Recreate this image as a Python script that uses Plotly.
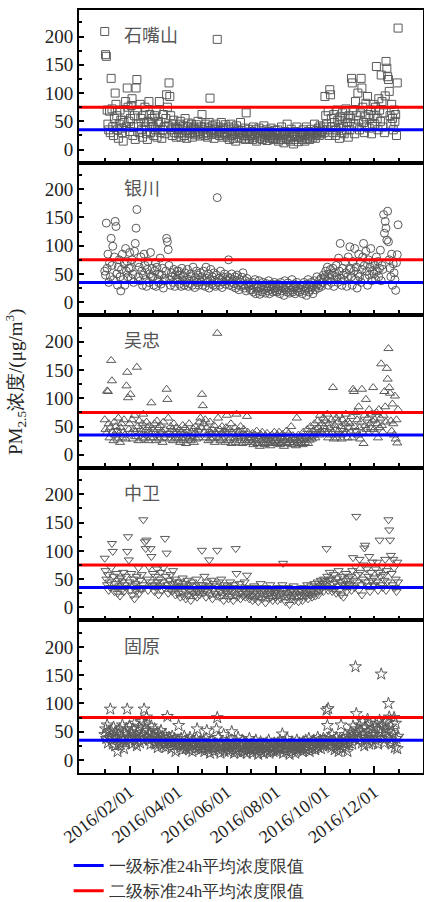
import pandas as pd
import plotly.graph_objects as go
from plotly.subplots import make_subplots

YEAR = 2016
STATIONS = ["石嘴山", "银川", "吴忠", "中卫", "固原"]
SYMBOLS = ["square-open", "circle-open", "triangle-up-open", "triangle-down-open", "star-open"]
LIMIT_1 = 35   # 一级标准
LIMIT_2 = 75   # 二级标准
LEGEND_NAMES = ["一级标准24h平均浓度限值", "二级标准24h平均浓度限值"]
X_RANGE = ["2015-11-30", "2017-01-31"]
X_TICKS = ["2016-02-01", "2016-04-01", "2016-06-01", "2016-08-01", "2016-10-01", "2016-12-01"]
X_TICK_LABELS = ["2016/02/01", "2016/04/01", "2016/06/01", "2016/08/01", "2016/10/01", "2016/12/01"]
Y_TICKS = [0, 50, 100, 150, 200]

# daily PM2.5 values, one inner list per month (Jan..Dec)
shizuishan = [
    [209,168,165,70,45,35,68,30,126,72,40,25,55,100,80,60,35,20,45,70,52,38,30,15,48,66,85,40,109,75,50],
    [32,55,78,90,25,40,60,18,109,124,70,45,30,80,55,35,22,60,48,75,40,28,18,50,85,62,30,45,55],
    [40,25,60,35,70,22,45,50,85,30,48,20,35,62,40,28,55,97,75,42,118,94,60,35,25,45,52,30,40,22,38],
    [35,28,45,50,22,30,38,42,25,55,33,20,40,47,30,28,35,45,22,38,40,30,26,44,35,50,28,32,24,40],
    [62,35,28,40,25,45,30,22,38,48,91,33,27,42,30,20,36,45,28,195,32,40,25,35,48,30,22,38,28,44,26],
    [30,22,40,18,35,45,25,28,20,38,32,15,42,27,35,22,30,48,20,33,28,25,38,18,65,30,24,36,20,28],
    [25,32,18,40,22,28,35,15,30,26,38,20,24,33,18,30,42,22,27,35,16,28,32,20,25,38,22,30,18,26,34],
    [20,28,35,15,25,30,18,40,22,26,12,32,28,20,45,18,24,30,15,36,22,28,10,25,32,18,40,22,14,30,26],
    [22,30,18,35,25,15,28,40,20,32,26,18,24,36,30,22,28,45,20,26,34,30,38,25,42,32,28,35,40,30],
    [94,60,45,35,68,25,106,97,55,40,30,62,48,25,35,70,52,38,20,58,45,30,65,40,28,55,72,35,48,22,60],
    [35,55,126,118,70,45,28,85,60,40,100,52,35,65,126,109,75,48,30,58,82,40,94,62,38,55,70,28,45,80],
    [60,45,75,147,55,35,90,70,50,132,85,40,65,30,95,156,144,129,124,103,60,45,80,55,35,70,50,62,25,118,215],
]
yinchuan = [
    [55,48,140,60,85,35,70,45,113,65,99,40,80,143,134,50,30,62,75,45,20,58,85,40,68,30,95,55,72,45,60],
    [88,60,42,75,50,35,90,104,131,164,70,45,62,38,80,55,30,48,85,65,40,28,58,72,35,50,88,45,60],
    [45,30,55,70,28,62,40,35,50,78,32,48,60,25,42,38,55,113,107,93,65,40,30,52,45,35,58,28,48,40,55],
    [40,55,32,48,28,60,38,45,30,52,35,42,58,28,40,33,50,45,30,62,38,26,44,55,35,48,30,40,52,36],
    [45,30,55,38,28,62,42,35,50,25,40,58,33,45,30,52,38,28,48,185,35,42,30,55,40,26,45,36,50,32,40],
    [38,45,75,30,42,35,50,28,40,33,45,25,38,48,30,22,40,35,28,44,52,30,25,38,20,42,32,28,35,22],
    [30,22,35,18,28,40,15,25,32,20,38,14,26,30,18,35,22,28,16,33,25,20,38,15,28,22,32,18,25,35,20],
    [25,18,32,22,28,15,35,20,26,30,12,38,22,28,18,34,25,16,30,22,40,18,26,32,15,28,35,20,25,18,30],
    [22,30,15,28,35,20,25,12,32,40,18,28,22,35,26,15,30,38,22,28,45,32,25,38,30,42,28,35,48,40],
    [45,55,38,62,30,50,42,58,35,48,60,28,52,40,65,45,35,78,55,104,42,30,60,48,38,72,52,28,45,80,58],
    [98,60,45,30,72,55,95,40,62,25,50,85,45,70,35,58,80,104,65,42,90,55,30,75,48,62,95,38,55,70],
    [50,65,40,80,55,72,45,60,92,38,65,58,155,122,143,131,110,161,107,75,60,45,85,30,68,52,40,21,70,84,137],
]
wuzhong = [
    [62,45,38,113,112,55,30,48,167,131,40,25,58,35,50,42,28,65,38,22,48,55,30,40,62,35,28,122,146,101,45],
    [55,107,38,62,28,45,70,40,32,155,50,25,60,38,45,30,55,72,28,42,35,58,48,25,40,52,30,92,38],
    [45,30,55,40,25,60,35,48,28,52,38,42,22,58,30,45,35,116,98,65,40,28,50,35,45,25,55,38,30,48,40],
    [35,28,45,22,40,30,52,25,38,48,20,35,42,28,55,32,25,40,30,46,22,38,50,28,35,44,30,58,65,48],
    [107,87,55,40,62,30,48,35,25,42,58,28,38,45,30,52,22,40,35,215,65,30,45,25,38,50,28,35,42,22,48],
    [70,38,25,45,30,55,20,40,35,28,48,22,72,36,30,42,25,50,32,20,38,45,28,35,22,68,40,30,25,35],
    [30,22,38,18,28,35,25,42,20,32,28,15,36,25,40,22,30,18,34,26,38,20,28,32,16,25,35,22,30,40,24],
    [28,20,35,25,40,18,30,22,36,28,15,32,25,42,20,30,38,22,26,50,18,34,28,22,30,16,65,25,35,20,28],
    [25,32,18,40,28,22,35,30,45,20,38,26,50,32,28,42,35,55,30,45,38,60,48,35,70,42,55,38,65,50],
    [45,60,38,72,30,55,48,35,62,40,119,28,52,45,65,30,58,42,70,35,50,28,62,45,38,55,72,40,30,58,48],
    [55,40,68,30,116,112,50,75,42,62,35,85,48,28,58,116,40,20,70,52,98,45,65,38,80,55,48,72,60,119],
    [45,62,38,75,55,30,80,48,65,161,52,40,70,112,85,58,153,134,188,119,109,60,42,90,55,35,104,28,62,21,80],
]
zhongwei = [
    [87,65,50,40,58,30,45,35,70,113,99,55,28,42,35,60,25,48,38,20,52,30,45,62,28,40,55,35,99,125,84],
    [45,30,60,22,38,50,15,42,28,55,35,70,25,48,32,58,40,155,35,116,104,119,50,30,72,45,104,90,38],
    [60,40,28,55,35,68,45,22,50,38,62,30,45,70,35,122,55,96,40,25,48,32,58,42,28,65,35,50,22,45,38],
    [35,25,45,18,38,28,52,20,30,42,15,35,48,22,30,40,12,28,45,25,38,20,32,50,18,28,40,22,35,30],
    [101,40,25,55,30,18,45,28,38,84,22,35,48,15,30,42,25,38,20,101,32,45,18,28,50,22,35,12,40,28,30],
    [25,38,15,30,45,20,28,35,12,40,22,104,60,18,32,25,42,15,28,36,20,30,45,18,25,57,22,35,15,28],
    [20,32,12,25,38,15,28,22,35,10,30,18,42,25,15,32,20,28,8,35,22,30,15,25,40,18,28,12,33,22,26],
    [18,28,12,35,22,30,15,25,40,78,20,32,10,26,18,35,22,5,28,15,30,20,38,12,25,32,18,28,10,22,30],
    [20,28,12,35,22,30,18,25,40,15,32,22,28,38,18,30,25,42,20,35,28,45,22,38,30,48,35,42,28,50],
    [45,38,104,55,30,48,62,35,50,28,42,58,32,45,25,52,38,65,30,45,22,55,40,18,48,35,60,28,42,52,38],
    [40,55,30,65,88,48,35,72,161,45,58,30,85,62,40,22,50,75,105,110,45,68,38,55,90,28,62,48,80,40],
    [52,38,68,45,80,30,62,119,55,40,72,35,58,48,85,30,65,45,155,137,119,92,60,40,85,70,35,50,28,80,45],
]
guyuan = [
    [45,55,38,62,30,48,40,90,52,35,28,58,42,25,50,38,15,45,32,55,28,40,62,35,20,48,30,55,90,42,38],
    [60,35,48,28,55,40,65,32,45,25,50,38,58,30,42,68,48,35,90,55,62,76,40,52,35,45,28,60,38],
    [42,30,55,28,38,48,22,35,45,30,52,25,40,35,28,45,22,38,77,32,40,28,35,20,42,30,25,38,15,32,28],
    [35,61,28,22,38,30,18,25,42,28,20,35,25,32,18,40,22,28,15,35,25,30,20,38,55,28,22,32,18,35],
    [28,20,32,15,25,38,52,22,18,30,12,25,35,20,28,15,30,22,55,75,40,18,28,12,25,32,20,45,15,25,30],
    [22,30,15,25,18,35,50,20,28,12,25,18,32,15,40,22,28,12,25,35,18,28,15,22,30,12,25,20,38,18],
    [20,25,12,30,18,22,35,15,25,10,28,20,32,15,22,28,12,25,18,30,15,22,35,12,25,18,28,20,15,30,22],
    [25,15,30,20,22,35,18,28,46,12,25,20,30,15,38,22,28,10,25,18,32,15,22,28,12,25,35,18,22,30,20],
    [22,28,15,32,20,25,35,18,28,22,38,15,25,30,20,28,35,22,18,30,25,40,22,28,35,20,30,25,38,28],
    [35,28,88,61,91,40,25,32,22,45,28,35,18,30,40,22,28,15,35,25,62,30,20,38,28,45,22,35,15,42,30],
    [35,50,42,28,60,45,38,165,82,55,48,35,62,40,52,30,68,45,25,58,40,35,72,50,28,65,45,38,55,30],
    [45,58,35,65,40,28,55,70,48,152,38,62,45,30,55,68,40,50,100,76,35,60,28,52,45,75,22,65,38,20,42],
]
SERIES = [shizuishan, yinchuan, wuzhong, zhongwei, guyuan]


def to_xy(monthly):
    xs, ys = [], []
    for m, vals in enumerate(monthly, start=1):
        start = pd.Timestamp(year=YEAR, month=m, day=1)
        for i, v in enumerate(vals):
            xs.append(start + pd.Timedelta(days=i))
            ys.append(v)
    return xs, ys


SERIF = "Liberation Serif"
CJK = "Noto Sans CJK SC"
MARKER_COLOR = "#5a5a5a"
TEXT_COLOR = "#222222"

fig = make_subplots(rows=5, cols=1, shared_xaxes=True, vertical_spacing=0)

for r, (name, sym, data) in enumerate(zip(STATIONS, SYMBOLS, SERIES), start=1):
    xs, ys = to_xy(data)
    fig.add_trace(go.Scatter(
        x=xs, y=ys, mode="markers", showlegend=False, name=name,
        marker=dict(symbol=sym, size=8 if sym != "star-open" else 9,
                    color=MARKER_COLOR, line=dict(width=1, color=MARKER_COLOR)),
    ), row=r, col=1)
    for k, (lim, col) in enumerate([(LIMIT_1, "#0000ff"), (LIMIT_2, "#ff0000")]):
        fig.add_trace(go.Scatter(
            x=X_RANGE, y=[lim, lim], mode="lines",
            line=dict(color=col, width=3),
            name=LEGEND_NAMES[k], legendgroup=f"g{k}",
            showlegend=(r == 1),
        ), row=r, col=1)
    xref = "x domain" if r == 1 else f"x{r} domain"
    yref = "y domain" if r == 1 else f"y{r} domain"
    fig.add_annotation(text=name, x=0.125, y=0.94, xref=xref, yref=yref,
                       xanchor="left", yanchor="top", showarrow=False,
                       font=dict(family=CJK, size=18, color="#555555"))

for r in range(1, 6):
    fig.update_yaxes(
        row=r, col=1, range=[-23, 247], tickvals=Y_TICKS,
        ticks="inside", ticklen=5, tickwidth=1.5, tickcolor="black",
        minor=dict(dtick=25, tick0=0, ticks="inside", ticklen=3, tickcolor="black"),
        showline=True, linecolor="black", linewidth=1.8, mirror=True,
        showgrid=False, zeroline=False,
        tickfont=dict(family=SERIF, size=19, color=TEXT_COLOR),
    )
    fig.update_xaxes(
        row=r, col=1, range=X_RANGE, type="date",
        showline=True, linecolor="black", linewidth=1.8, mirror=True,
        showgrid=False, zeroline=False,
        ticks="inside", tickcolor="black", tickwidth=1.5,
    )

for r in range(1, 5):
    fig.update_xaxes(row=r, col=1, dtick="M1", tick0="2016-01-01", ticklen=5,
                     showticklabels=False)

fig.update_xaxes(row=5, col=1, tickvals=X_TICKS, ticktext=X_TICK_LABELS,
                 ticklen=7, tickangle=-37, automargin=False,
                 tickfont=dict(family=SERIF, size=18, color=TEXT_COLOR),
                 minor=dict(dtick="M1", tick0="2016-01-01", ticks="inside",
                            ticklen=4, tickcolor="black"))

fig.add_annotation(
    text="PM<sub>2.5</sub>浓度/(μg/m<sup>3</sup>)", textangle=-90,
    x=(15 - 79) / 344, xref="paper", xanchor="center",
    y=1 - (382 - 10) / 763, yref="paper", yanchor="middle", showarrow=False,
    font=dict(family=SERIF, size=19, color=TEXT_COLOR),
)

fig.update_layout(
    width=424, height=902,
    margin=dict(l=79, r=1, t=10, b=129, autoexpand=False),
    paper_bgcolor="white", plot_bgcolor="white",
    showlegend=True,
    legend=dict(x=-0.03, xanchor="left", yref="container", y=1 - 848 / 902,
                yanchor="top", orientation="v", tracegroupgap=0,
                font=dict(family=SERIF, size=17, color="#333333"),
                bgcolor="rgba(0,0,0,0)"),
)

fig.write_html("out.html")
